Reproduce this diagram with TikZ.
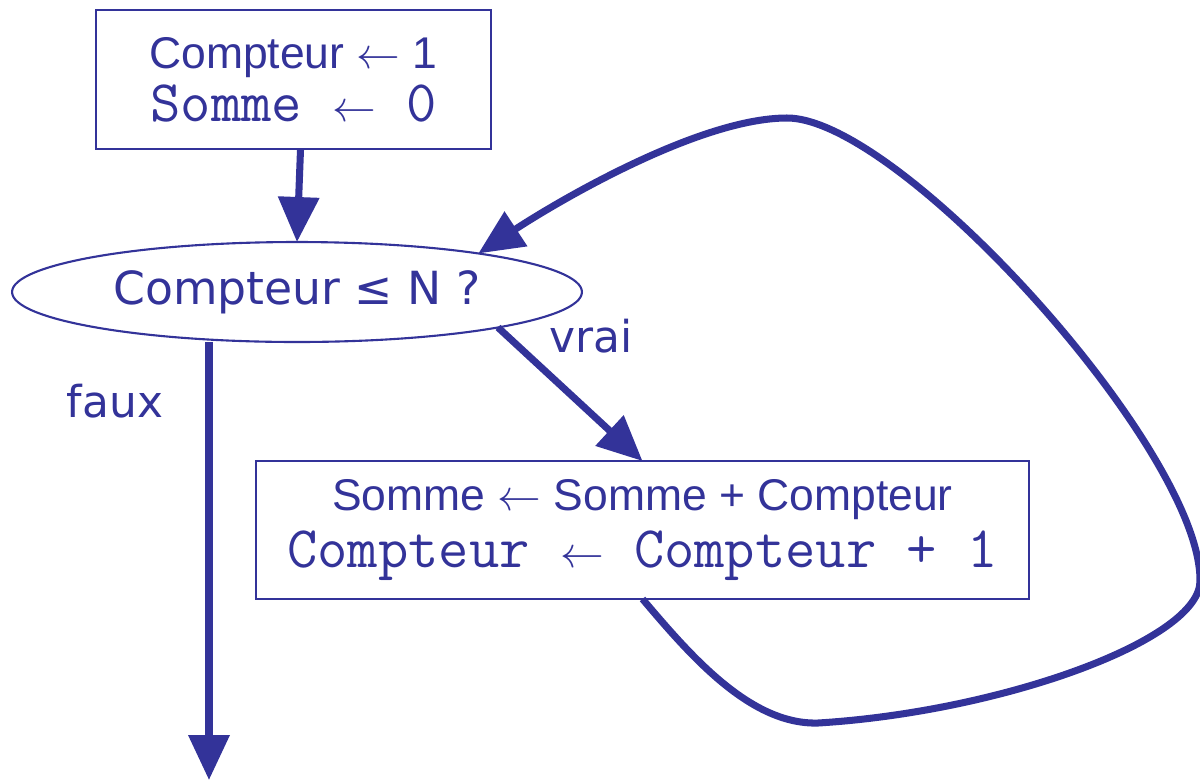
\documentclass[tikz,border=0pt]{standalone}
\usepackage{fontspec}
\setmainfont{Liberation Sans}
\newfontfamily\verdfont{DejaVu Sans}
\usetikzlibrary{positioning, shapes.geometric, arrows.meta}
\definecolor{algoblue}{RGB}{51,51,153}
\newcommand{\affecte}{$\leftarrow$}
\newcommand{\codeline}{\ttfamily\fontsize{33.5}{30}\selectfont}

\begin{document}
\begin{tikzpicture}[
    x=0.02cm, y=-0.02cm,
    every node/.style = {text=algoblue, inner sep=0pt, outer sep=0pt},
    instr/.style = {draw=algoblue, line width=1.2pt, align=center, font=\fontsize{25.3}{30}\selectfont},
    test/.style = {draw=algoblue, line width=1.2pt, ellipse, minimum width=11.4cm, minimum height=2cm, font=\verdfont\fontsize{26}{30}\selectfont},
    lbl/.style = {font=\verdfont\fontsize{25}{30}\selectfont},
    flow/.style = {draw=algoblue, line width=4pt, -{Triangle[length=0.9cm, width=0.8cm]}}
]
    \useasboundingbox (0,0) rectangle (1200,782);

    \node [instr, minimum width=7.9cm, minimum height=2.78cm] (init) at (293.5,79.5)
        {Compteur \affecte{} 1\\{\codeline Somme \affecte{} 0}};
    \node [test] (cond) at (297,292) {Compteur ≤ N ?};
    \node [instr, minimum width=15.46cm, minimum height=2.76cm] (incr) at (642.5,530)
        {Somme \affecte{} Somme + Compteur\\[2pt]{\codeline Compteur \affecte{} Compteur + 1}};

    \node [lbl] (vrai) at (591,336) {vrai};
    \node [lbl] (faux) at (115,401) {faux};
    \coordinate (sortie) at (209,780);

    \draw[flow] ([xshift=4pt]init.south) -- (cond.north);
    \draw[flow] (cond.-10) -- (incr.north);
    \draw[flow] (sortie |- cond.south) -- (sortie);

    % retour vers le test
    \draw[flow] (incr.south) .. controls (690,655) and (750,725) .. (818,723)
        .. controls (1000,712) and (1202,640) .. (1200,580)
        .. controls (1200,450) and (900,118) .. (787,118)
        .. controls (700,118) and (560,200) .. (cond.12);
\end{tikzpicture}
\end{document}
